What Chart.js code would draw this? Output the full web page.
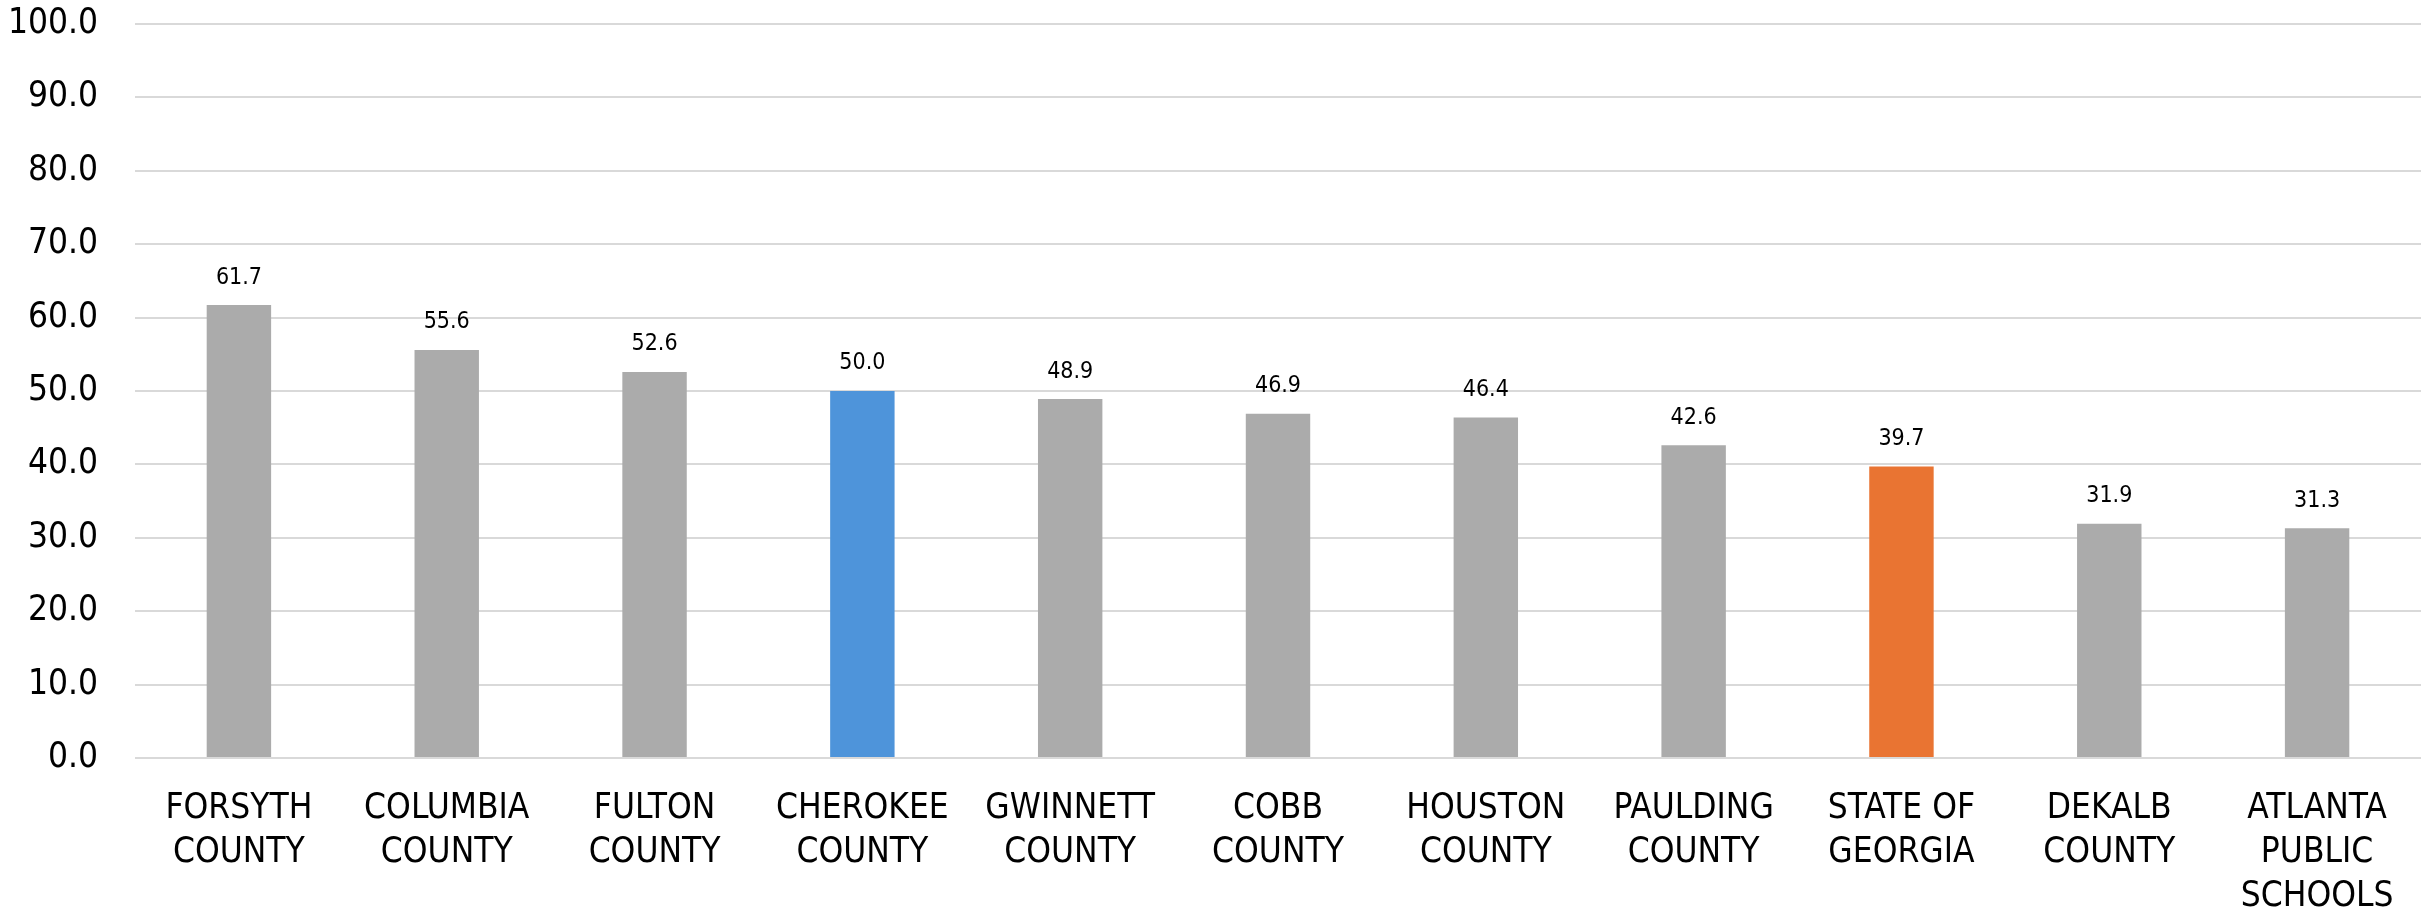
<!DOCTYPE html>
<html>
<head>
<meta charset="utf-8">
<script src="https://cdn.jsdelivr.net/npm/chart.js@4/dist/chart.umd.min.js"></script>
<style>
html,body{margin:0;padding:0;background:#fff;}
#wrap{width:2435px;height:913px;position:relative;}
</style>
</head>
<body>
<div id="wrap"><canvas id="c"></canvas></div>
<script>
const categories = [
  ["FORSYTH","COUNTY"],
  ["COLUMBIA","COUNTY"],
  ["FULTON","COUNTY"],
  ["CHEROKEE","COUNTY"],
  ["GWINNETT","COUNTY"],
  ["COBB","COUNTY"],
  ["HOUSTON","COUNTY"],
  ["PAULDING","COUNTY"],
  ["STATE OF","GEORGIA"],
  ["DEKALB","COUNTY"],
  ["ATLANTA","PUBLIC","SCHOOLS"]
];
const values = [61.7, 55.6, 52.6, 50.0, 48.9, 46.9, 46.4, 42.6, 39.7, 31.9, 31.3];
const barColors = ["#ABABAB","#ABABAB","#ABABAB","#4E94DA","#ABABAB","#ABABAB","#ABABAB","#ABABAB","#E97432","#ABABAB","#ABABAB"];

const FONT = "'Liberation Sans Narrow', 'DejaVu Sans Condensed', Roboto, sans-serif";

const valueLabels = {
  id: 'valueLabels',
  afterDatasetsDraw(chart) {
    const ctx = chart.ctx;
    const meta = chart.getDatasetMeta(0);
    ctx.save();
    ctx.font = "23px " + FONT;
    ctx.fillStyle = "#000";
    ctx.textAlign = "center";
    ctx.textBaseline = "bottom";
    meta.data.forEach((bar, i) => {
      ctx.fillText(values[i].toFixed(1), bar.x, bar.y - 16);
    });
    ctx.restore();
  }
};

new Chart(document.getElementById('c'), {
  type: 'bar',
  data: {
    labels: categories,
    datasets: [{
      data: values,
      backgroundColor: barColors,
      barPercentage: 0.62,
      categoryPercentage: 0.5
    }]
  },
  options: {
    responsive: true,
    maintainAspectRatio: false,
    animation: false,
    devicePixelRatio: 1,
    layout: { padding: { top: 24, right: 14, left: 0, bottom: 0 } },
    plugins: { legend: { display: false }, tooltip: { enabled: false } },
    scales: {
      x: {
        grid: { display: false, drawTicks: false },
        border: { display: false },
        ticks: {
          color: "#000",
          font: { family: FONT, size: 35, lineHeight: 1.26 },
          padding: 29,
          maxRotation: 0,
          autoSkip: false
        },
        afterFit(scale) { scale.height = 155; scale.paddingLeft = 0; scale.paddingRight = 0; }
      },
      y: {
        min: 0, max: 100,
        grid: { color: "#D9D9D9", lineWidth: 2, drawTicks: false },
        border: { display: false },
        ticks: {
          stepSize: 10,
          color: "#000",
          font: { family: FONT, size: 35, lineHeight: 1.2 },
          padding: 37,
          callback: v => v.toFixed(1)
        },
        afterFit(scale) { scale.width = 135; scale.paddingTop = 0; scale.paddingBottom = 0; }
      }
    }
  },
  plugins: [valueLabels]
});
</script>
</body>
</html>
